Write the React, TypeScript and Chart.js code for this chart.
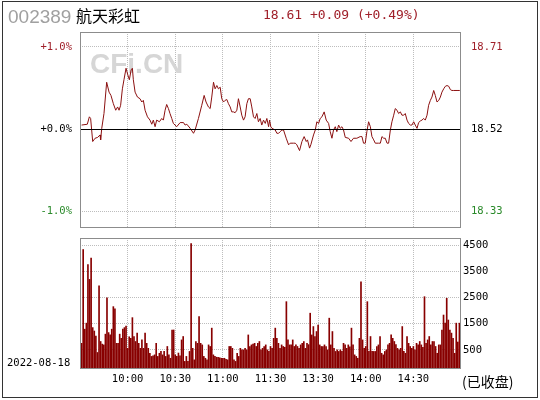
import React, { useEffect, useRef } from "react";
import { Chart, registerables } from "chart.js";

Chart.register(...registerables);

// ---------- data ----------
const stockCode = "002389";
const stockName = "航天彩虹";
const quoteText = "18.61 +0.09 (+0.49%)";
const tradeDate = "2022-08-18";
const statusText = "(已收盘)";
const prevClose = 18.52;

const pctTicks = [-1, 0, 1];
const volTicks = [500, 1500, 2500, 3500, 4500];
const timeTickMinutes = [30, 60, 90, 120, 150, 180, 210];
const timeTickLabels = ["10:00", "10:30", "11:00", "11:30", "13:30", "14:00", "14:30"];

// minutes since 9:30 (trading minutes, lunch removed) and % change vs previous close
const priceMinutes = [
  1.0, 4.6, 5.9, 6.7, 8.0, 9.5, 11.1, 12.6, 13.0, 13.7, 15.1, 16.8, 18.3, 19.5, 21.0, 22.5, 23.7, 24.6, 25.6, 26.7,
  27.7, 29.0, 30.1, 31.1, 32.2, 33.0, 33.6, 34.7, 36.2, 37.8, 38.9, 39.9, 41.0, 42.5, 44.1, 45.2, 46.2, 47.3, 48.3, 50.0,
  51.5, 52.5, 53.6, 54.6, 55.7, 56.7, 57.8, 58.8, 59.9, 60.9, 63.1, 65.2, 66.2, 67.3, 69.4, 71.5, 72.5, 74.6, 76.7, 78.2,
  79.4, 80.9, 82.0, 83.0, 84.1, 85.1, 86.2, 87.2, 88.3, 89.3, 90.4, 91.4, 92.5, 93.5, 94.6, 95.6, 96.7, 97.7, 98.8, 99.8,
  100.9, 101.9, 103.0, 104.0, 105.1, 106.1, 107.2, 108.2, 109.3, 110.3, 111.4, 112.4, 113.5, 114.5, 115.6, 116.7, 117.7, 118.8, 119.4, 120.2,
  120.9, 123.0, 124.0, 125.1, 126.1, 127.2, 128.2, 129.9, 131.4, 132.4, 134.5, 135.6, 136.6, 138.3, 139.8, 141.2, 142.5, 143.3, 144.6, 145.4,
  147.1, 148.2, 149.2, 150.3, 151.3, 152.4, 153.8, 155.1, 156.6, 157.6, 158.7, 159.7, 160.8, 161.8, 162.9, 163.9, 165.0, 166.0, 167.1, 169.2,
  170.7, 172.3, 174.4, 176.5, 177.6, 178.6, 179.7, 180.7, 181.8, 182.9, 183.9, 185.0, 186.0, 188.1, 189.2, 190.2, 191.3, 192.3, 193.4, 194.4,
  195.5, 196.5, 197.6, 198.6, 199.7, 200.7, 201.8, 202.8, 203.9, 204.9, 206.0, 207.0, 208.1, 209.1, 210.2, 211.2, 212.3, 213.3, 214.4, 215.4,
  216.5, 217.5, 218.6, 219.6, 220.7, 221.7, 222.8, 223.8, 224.9, 226.0, 227.0, 228.0, 229.1, 230.1, 231.2, 232.3, 233.3, 234.3, 235.4, 237.5,
  239.0, 240.0,
];
const pricePct = [
  0.05, 0.06, 0.15, 0.13, -0.15, -0.11, -0.10, -0.07, -0.13, 0.01, 0.19, 0.57, 0.45, 0.41, 0.31, 0.23, 0.27, 0.23, 0.29, 0.49,
  0.60, 0.74, 0.66, 0.60, 0.72, 0.74, 0.60, 0.45, 0.39, 0.37, 0.33, 0.35, 0.23, 0.15, 0.11, 0.06, 0.11, 0.03, 0.11, 0.09,
  0.13, 0.11, 0.23, 0.30, 0.25, 0.19, 0.13, 0.07, 0.05, 0.03, 0.08, 0.08, 0.05, 0.06, 0.01, -0.05, -0.01, 0.13, 0.29, 0.41,
  0.33, 0.27, 0.25, 0.39, 0.57, 0.49, 0.53, 0.49, 0.51, 0.37, 0.33, 0.35, 0.36, 0.31, 0.27, 0.21, 0.21, 0.20, 0.23, 0.37,
  0.27, 0.17, 0.11, 0.15, 0.31, 0.37, 0.37, 0.27, 0.15, 0.13, 0.19, 0.09, 0.13, 0.05, 0.11, 0.07, 0.13, 0.03, 0.11, 0.03,
  0.01, -0.01, -0.05, -0.05, -0.03, -0.01, -0.01, -0.11, -0.19, -0.17, -0.17, -0.17, -0.19, -0.26, -0.15, -0.09, -0.15, -0.13, -0.23, -0.19,
  -0.07, -0.01, 0.09, 0.07, 0.13, 0.15, 0.21, 0.11, 0.07, -0.03, -0.11, -0.01, 0.03, -0.03, 0.05, 0.01, 0.03, -0.01, -0.10, -0.11,
  -0.15, -0.11, -0.11, -0.09, -0.09, -0.17, -0.17, -0.03, 0.09, 0.03, -0.09, -0.13, -0.17, -0.17, -0.17, -0.09, -0.11, -0.11, -0.17, -0.17,
  -0.01, 0.09, 0.17, 0.25, 0.23, 0.19, 0.21, 0.17, 0.17, 0.19, 0.11, 0.07, 0.05, 0.05, 0.09, 0.05, 0.01, 0.08, 0.10, 0.11,
  0.13, 0.11, 0.17, 0.29, 0.35, 0.39, 0.47, 0.41, 0.33, 0.35, 0.39, 0.45, 0.49, 0.52, 0.53, 0.52, 0.48, 0.47, 0.47, 0.47,
  0.47, 0.47,
];

// per-minute volume (hands), minute 1 .. 239
const volumes = [
  750, 4330, 1290, 1520, 3760, 3190, 4000, 1350, 1220, 1030,
  400, 2940, 820, 720, 690, 1100, 2490, 1160, 1070, 1290,
  2150, 2070, 750, 750, 1100, 940, 1290, 1350, 1410, 560,
  1000, 940, 1730, 1010, 820, 1140, 750, 560, 880, 560,
  1140, 750, 560, 370, 250, 270, 310, 750, 250, 370,
  440, 310, 440, 250, 630, 310, 180, 1260, 1260, 310,
  250, 380, 270, 880, 1010, 60, 250, 60, 440, 4560,
  560, 120, 820, 750, 1770, 750, 690, 250, 180, 120,
  690, 630, 1330, 310, 250, 220, 220, 200, 180, 180,
  180, 140, 120, 630, 630, 560, 120, 60, 370, 250,
  560, 500, 500, 560, 500, 1070, 630, 690, 720, 750,
  630, 750, 820, 500, 560, 630, 690, 500, 440, 630,
  560, 940, 1330, 940, 750, 560, 690, 630, 600, 2340,
  880, 690, 690, 880, 630, 690, 630, 560, 690, 750,
  820, 560, 750, 700, 1900, 1070, 1390, 1010, 1200, 1450,
  690, 630, 630, 690, 630, 500, 1710, 690, 1200, 560,
  440, 500, 440, 500, 440, 750, 690, 560, 690, 620,
  1330, 690, 310, 250, 180, 940, 3100, 880, 560, 630,
  2340, 440, 1010, 440, 440, 440, 630, 690, 1010, 370,
  310, 440, 500, 690, 750, 1070, 940, 820, 700, 560,
  500, 560, 1390, 440, 370, 1010, 750, 630, 560, 630,
  500, 750, 690, 820, 690, 600, 2530, 750, 880, 1010,
  690, 820, 820, 630, 370, 690, 690, 1260, 1830, 1520,
  2470, 1640, 1260, 1140, 940, 370, 1520, 800, 1520,
];

const volMin = -230;
const volMax = 4770;

// ---------- styles ----------
const UP = "#a0202a";
const DOWN = "#2a8a2a";
const GRID = "#bdbdbd";
const AXIS_FONT = { family: "'DejaVu Sans Mono', monospace", size: 10.5 };

const framePlugin = {
  id: "frame",
  afterDraw(chart: any) {
    const { ctx, chartArea: a } = chart;
    ctx.save();
    ctx.strokeStyle = "#8c8c8c";
    ctx.lineWidth = 1;
    ctx.strokeRect(Math.round(a.left) + 0.5, Math.round(a.top) + 0.5, Math.round(a.right - a.left) - 1, Math.round(a.bottom - a.top) - 1);
    ctx.restore();
  },
};

const zeroLinePlugin = {
  id: "zeroLine",
  afterDatasetsDraw(chart: any) {
    const { ctx, chartArea: a } = chart;
    const y = Math.round(chart.scales.y.getPixelForValue(0)) + 0.5;
    ctx.save();
    ctx.strokeStyle = "#000";
    ctx.lineWidth = 1;
    ctx.beginPath();
    ctx.moveTo(a.left, y);
    ctx.lineTo(a.right, y);
    ctx.stroke();
    ctx.restore();
  },
};

const watermarkPlugin = {
  id: "watermark",
  beforeDatasetsDraw(chart: any) {
    const { ctx, chartArea: a } = chart;
    ctx.save();
    ctx.fillStyle = "#d6d6d6";
    ctx.font = "bold 28px 'Liberation Sans', Arial, sans-serif";
    ctx.textBaseline = "middle";
    ctx.textAlign = "left";
    ctx.fillText("CFi.CN", a.left + 10, a.top + 33);
    ctx.restore();
  },
};

const tickColor = (ctx: any) => {
  const v = ctx.tick ? ctx.tick.value : 0;
  return v > 0 ? UP : v < 0 ? DOWN : "#000";
};

// fix an axis' width and drop the label-overflow padding Chart.js would add
const fixWidth = (w: number) => (s: any) => {
  s.width = w;
  s.paddingTop = 0;
  s.paddingBottom = 0;
};

export default function App() {
  const priceRef = useRef<HTMLCanvasElement | null>(null);
  const volRef = useRef<HTMLCanvasElement | null>(null);

  useEffect(() => {
    const priceChart = new Chart(priceRef.current as HTMLCanvasElement, {
      type: "line",
      data: {
        datasets: [
          {
            data: priceMinutes.map((m, i) => ({ x: m, y: pricePct[i] })),
            borderColor: "#8b1010",
            borderWidth: 1,
            pointRadius: 0,
            tension: 0,
            fill: false,
          },
        ],
      },
      options: {
        animation: false,
        responsive: false,
        maintainAspectRatio: false,
        events: [],
        layout: { autoPadding: false, padding: { top: 32, bottom: 12, left: 0, right: 0 } },
        plugins: { legend: { display: false }, tooltip: { enabled: false } },
        scales: {
          x: {
            type: "linear",
            min: 0,
            max: 240,
            afterBuildTicks: (s: any) => {
              s.ticks = timeTickMinutes.map((v) => ({ value: v }));
            },
            ticks: { display: false },
            grid: { color: GRID, drawTicks: false },
            border: { display: false, dash: [1, 1] },
            afterFit: (s: any) => {
              s.height = 0;
              s.paddingLeft = 0;
              s.paddingRight = 0;
            },
          },
          y: {
            position: "left",
            min: -1.2,
            max: 1.18,
            afterBuildTicks: (s: any) => {
              s.ticks = pctTicks.map((v) => ({ value: v }));
            },
            ticks: {
              font: AXIS_FONT,
              color: tickColor,
              padding: 8,
              callback: (v: any) => (v >= 0 ? "+" : "") + Number(v).toFixed(1) + "%",
            },
            grid: {
              drawTicks: false,
              color: (ctx: any) => (ctx.tick && ctx.tick.value === 0 ? "rgba(0,0,0,0)" : GRID),
            },
            border: { display: false, dash: [1, 1] },
            afterFit: fixWidth(80),
          },
          y2: {
            position: "right",
            min: -1.2,
            max: 1.18,
            afterBuildTicks: (s: any) => {
              s.ticks = pctTicks.map((v) => ({ value: v }));
            },
            ticks: {
              font: AXIS_FONT,
              color: tickColor,
              padding: 2,
              callback: (v: any) => (prevClose * (1 + Number(v) / 100)).toFixed(2),
            },
            grid: { display: false },
            border: { display: false },
            afterFit: fixWidth(79),
          },
        },
      } as any,
      plugins: [watermarkPlugin, zeroLinePlugin, framePlugin],
    });

    const volChart = new Chart(volRef.current as HTMLCanvasElement, {
      type: "bar",
      data: {
        datasets: [
          {
            data: volumes.map((v, i) => ({ x: i + 1, y: v })),
            backgroundColor: "#880000",
            barThickness: 1,
            base: volMin,
          } as any,
        ],
      },
      options: {
        animation: false,
        responsive: false,
        maintainAspectRatio: false,
        events: [],
        layout: { autoPadding: false, padding: { top: 8, bottom: 0, left: 80, right: 0 } },
        plugins: { legend: { display: false }, tooltip: { enabled: false } },
        scales: {
          x: {
            type: "linear",
            min: 0,
            max: 240,
            offset: false,
            afterBuildTicks: (s: any) => {
              s.ticks = timeTickMinutes.map((v) => ({ value: v }));
            },
            ticks: {
              font: AXIS_FONT,
              color: "#000",
              padding: 4,
              maxRotation: 0,
              autoSkip: false,
              callback: (v: any) => timeTickLabels[timeTickMinutes.indexOf(Number(v))],
            },
            grid: { color: GRID, drawTicks: false, offset: false },
            border: { display: false, dash: [1, 1] },
            afterFit: (s: any) => {
              s.height = 31;
              s.paddingLeft = 0;
              s.paddingRight = 0;
            },
          },
          y: {
            position: "right",
            min: volMin,
            max: volMax,
            afterBuildTicks: (s: any) => {
              s.ticks = volTicks.map((v) => ({ value: v }));
            },
            ticks: { font: AXIS_FONT, color: "#000", padding: 2, callback: (v: any) => String(v) },
            grid: { color: GRID, drawTicks: false },
            border: { display: false, dash: [1, 1] },
            afterFit: fixWidth(79),
          },
        },
      } as any,
      plugins: [framePlugin],
    });

    return () => {
      priceChart.destroy();
      volChart.destroy();
    };
  }, []);

  const text = (extra: React.CSSProperties): React.CSSProperties => ({
    position: "absolute",
    whiteSpace: "nowrap",
    margin: 0,
    padding: 0,
    ...extra,
  });

  return (
    <div
      style={{
        position: "absolute",
        left: 0,
        top: 0,
        width: 540,
        height: 400,
        background: "#fff",
        overflow: "hidden",
      }}
    >
      <div
        style={{
          position: "absolute",
          left: 2,
          top: 1,
          width: 536,
          height: 397,
          boxSizing: "border-box",
          border: "1px solid #333",
        }}
      />
      <canvas ref={priceRef} width={540} height={240} style={{ position: "absolute", left: 0, top: 0, width: 540, height: 240 }} />
      <canvas ref={volRef} width={540} height={170} style={{ position: "absolute", left: 0, top: 230, width: 540, height: 170 }} />
      <div style={text({ left: 8, top: 5, lineHeight: "24px", fontSize: 19, color: "#a0a0a0", fontFamily: "'Liberation Sans', Arial, sans-serif" })}>
        {stockCode}
      </div>
      <div style={text({ left: 76, top: 3, lineHeight: "24px", fontSize: 16, color: "#000", fontFamily: "'Noto Sans CJK SC', sans-serif" })}>
        {stockName}
      </div>
      <div style={text({ left: 263, top: 5, lineHeight: "20px", fontSize: 13, color: UP, fontFamily: "'DejaVu Sans Mono', monospace" })}>
        {quoteText}
      </div>
      <div style={text({ left: 7, top: 355, lineHeight: "15px", fontSize: 10.5, color: "#000", fontFamily: "'DejaVu Sans Mono', monospace" })}>
        {tradeDate}
      </div>
      <div style={text({ left: 462, top: 371, lineHeight: "20px", fontSize: 14, color: "#000", fontFamily: "'Noto Sans CJK SC', sans-serif" })}>
        {statusText}
      </div>
    </div>
  );
}
